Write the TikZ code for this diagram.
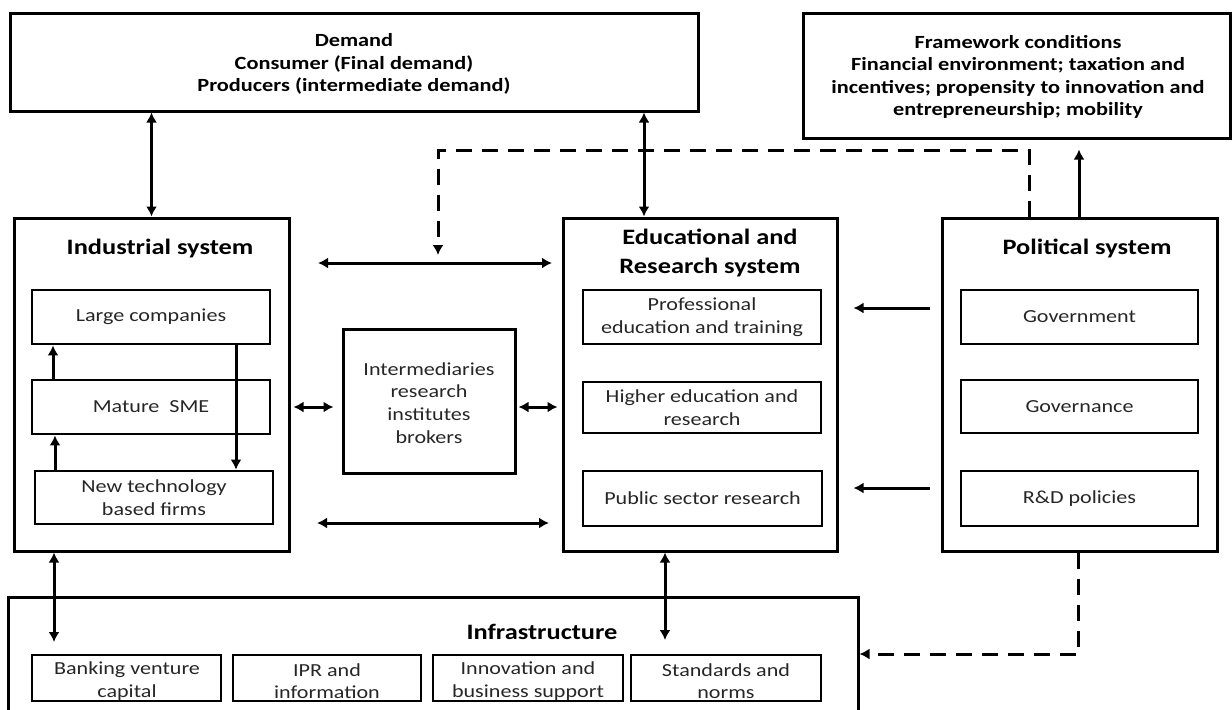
\documentclass[tikz,border=0pt]{standalone}
\usepackage{fontspec}
\setmainfont[FakeStretch=1.2]{Carlito}
\usetikzlibrary{arrows.meta,fit}
\begin{document}
\begin{tikzpicture}[x=0.5pt,y=-0.5pt,
  box/.style={draw, line width=1.5pt, inner sep=0pt},
  sub/.style={draw, line width=1.4pt, inner sep=0pt},
  ttl/.style={align=center, font=\fontsize{11}{14.5}\selectfont\bfseries},
  hd/.style={align=center, font=\fontsize{9.3}{11.2}\selectfont\bfseries},
  txt/.style={align=center, inner sep=0pt, text=black!85, font=\fontsize{9.2}{11.2}\selectfont},
  tip/.tip={Latex[length=5pt,width=5.5pt]},
  dbl/.style={line width=1.5pt, tip-tip},
  arr/.style={line width=1.5pt, -tip},
  dsh/.style={line width=1.5pt, dash pattern=on 8pt off 5pt, -tip}]
\useasboundingbox (0,0) rectangle (1232,709);
\clip (0,0) rectangle (1232,709);

% top boxes
\node[box, fit={(10,13)(698,111)}] (dem) {};
\node[hd] (demt) at (354,64) {Demand\\Consumer (Final demand)\\Producers (intermediate demand)};
\node[box, fit={(803,13)(1230,138)}] (fw) {};
\node[hd] (fwt) at (1018,77) {Framework conditions\\Financial environment; taxation and\\incentives; propensity to innovation and\\entrepreneurship; mobility};

% industrial system
\node[box, fit={(14,218)(289,551)}] (ind) {};
\node[ttl] (indt) at (160,248) {Industrial system};
\node[sub, fit={(32,290)(270,344)}] (lc) {};
\node[txt] (lct) at (lc) {Large companies};
\node[sub, fit={(32,380)(270,434)}] (sme) {};
\node[txt] (smet) at (sme) {Mature\ \ SME};
\node[sub, fit={(35,471)(273,524)}] (ntbf) {};
\node[txt] (ntbft) at (ntbf) {New technology\\based firms};

% intermediaries
\node[box, fit={(343,329)(515,473)}] (inter) {};
\node[txt, font=\fontsize{9.2}{11.35}\selectfont] (intert) at (429,403) {Intermediaries\\research\\institutes\\brokers};

% educational system
\node[box, fit={(563,218)(837,551)}] (edu) {};
\node[ttl] (edut) at (710,253) {Educational and\\Research system};
\node[sub, fit={(583,290)(821,344)}] (pe) {};
\node[txt] (pet) at (pe) {Professional\\education and training};
\node[sub, fit={(583,382)(821,433)}] (he) {};
\node[txt] (het) at (he) {Higher education and\\research};
\node[sub, fit={(583,471)(822,526)}] (ps) {};
\node[txt] (pst) at (ps) {Public sector research};

% political system
\node[box, fit={(942,218)(1217,551)}] (pol) {};
\node[ttl] (polt) at (1087,248) {Political system};
\node[sub, fit={(961,290)(1198,344)}] (gov) {};
\node[txt] (govt) at (gov) {Government};
\node[sub, fit={(961,380)(1198,433)}] (gvn) {};
\node[txt] (gvnt) at (gvn) {Governance};
\node[sub, fit={(961,471)(1198,526)}] (rd) {};
\node[txt] (rdt) at (rd) {R\&D policies};

% infrastructure
\node[box, fit={(8,597)(858,760)}] (inf) {};
\node[ttl] (inft) at (542,632) {Infrastructure};
\node[sub, fit={(32,655)(221,701)}] (bank) {};
\node[txt] (bankt) at (127,681) {Banking venture\\capital};
\node[sub, fit={(233,655)(421,701)}] (ipr) {};
\node[txt] (iprt) at (327,681) {IPR and\\information};
\node[sub, fit={(433,655)(623,701)}] (inn) {};
\node[txt] (innt) at (528,681) {Innovation and\\business support};
\node[sub, fit={(631,655)(821,701)}] (std) {};
\node[txt] (stdt) at (726,681) {Standards and\\norms};

% helper coordinates
\coordinate (c53) at (53,0);
\coordinate (c55) at (55,0);
\coordinate (c236) at (236,0);
\coordinate (c644) at (644,0);
\coordinate (c1079) at (1079,0);
\coordinate (dA) at (1029,150);
\coordinate (dB) at (438,150);
\coordinate (dC) at (438,255);
\coordinate (h1a) at (318,263);
\coordinate (h1b) at (552,263);
\coordinate (h2a) at (317,523);
\coordinate (h2b) at (549,523);
\coordinate (y407) at (0,407);
\coordinate (y308) at (0,308);
\coordinate (y488) at (0,488);
\coordinate (e1) at (54,642);
\coordinate (e2) at (665,640);
\coordinate (dD) at (1078,654);

% connectors
\draw[dbl] (dem.south -| ind.north) -- (ind.north);
\draw[dbl] (dem.south -| c644) -- (edu.north -| c644);
\draw[arr] (pol.north -| c1079) -- ([yshift=-5pt]fw.south -| c1079);
\draw[dsh] (pol.north -| dA) -- (dA) -- (dB) -- (dC);
\draw[dbl] (h1a) -- (h1b);
\draw[dbl] (h2a) -- (h2b);
\draw[dbl, shorten <=1.5pt, shorten >=4pt] (ind.east |- y407) -- (inter.west |- y407);
\draw[dbl, shorten <=1pt, shorten >=2pt] (inter.east |- y407) -- (edu.west |- y407);
\draw[arr, shorten <=5.5pt, shorten >=7.5pt] (pol.west |- y308) -- (edu.east |- y308);
\draw[arr, shorten <=5.5pt, shorten >=7.5pt] (pol.west |- y488) -- (edu.east |- y488);
\draw[dbl] (ind.south -| e1) -- (e1);
\draw[dbl] (edu.south -| e2) -- (e2);
\draw[dsh] (pol.south -| dD) -- (dD) -- (inf.east |- dD);

% inside industrial system
\draw[arr] (sme.north -| c53) -- (lc.south -| c53);
\draw[arr] (ntbf.north -| c55) -- (sme.south -| c55);
\draw[arr] (lc.south -| c236) -- (ntbf.north -| c236);
\end{tikzpicture}
\end{document}
